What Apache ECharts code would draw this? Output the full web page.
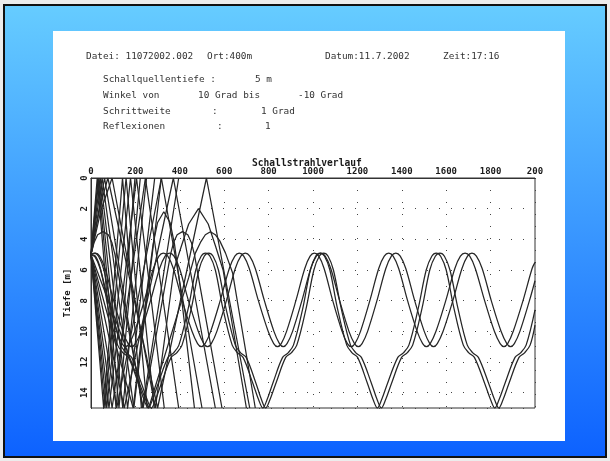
<!DOCTYPE html>
<html><head><meta charset="utf-8">
<script src="https://cdn.jsdelivr.net/npm/echarts@6/dist/echarts.min.js"></script>
<style>
html,body{margin:0;padding:0;width:610px;height:461px;overflow:hidden;background:#ececec;}
#frame{position:absolute;left:3px;top:4px;width:600px;height:450px;border:2px solid #111;background:linear-gradient(#66ccff,#0d62ff);}
#paper{position:absolute;left:53px;top:31px;width:512px;height:410px;background:#fff;}
#chart{position:absolute;left:0;top:0;width:610px;height:461px;}
</style></head>
<body>
<div id="frame"></div><div id="paper"></div><div id="chart"></div>
<script>
// ---- axis ticks ----
const xTicks = [0,200,400,600,800,1000,1200,1400,1600,1800,2000];
const xTickLabels = ['0','200','400','600','800','1000','1200','1400','1600','1800','200'];
const yTickLabels = {0:'0',2:'2',4:'4',6:'6',8:'8',10:'10',12:'12',14:'14'};

// ---- trapped rays (range m, depth m) ----
const rayA1 = [[0,5.0],[18,5.15],[41,5.9],[78,8.0],[117,10.0],[140,10.8],[155,11.0],
[172,10.8],[197,10.0],[240,8.0],[281,5.9],[306,5.1],[326,4.9],
[346,5.1],[371,5.9],[411,8.0],[455,10.0],[480,10.8],[497,11.0],
[514,10.8],[539,10.0],[582,8.0],[623,5.9],[648,5.1],[668,4.9],
[688,5.1],[713,5.9],[754,8.0],[798,10.0],[823,10.8],[840,11.0],
[857,10.8],[881,10.0],[923,8.0],[963,5.9],[987,5.1],[1006,4.9],
[1026,5.1],[1050,5.9],[1089,8.0],[1131,10.0],[1155,10.8],[1172,11.0],
[1189,10.8],[1214,10.0],[1256,8.0],[1296,5.9],[1321,5.1],[1341,4.9],
[1361,5.1],[1386,5.9],[1426,8.0],[1469,10.0],[1494,10.8],[1511,11.0],
[1528,10.8],[1554,10.0],[1598,8.0],[1639,5.9],[1664,5.1],[1685,4.9],
[1706,5.1],[1731,5.9],[1773,8.0],[1817,10.0],[1843,10.8],[1860,11.0],
[1877,10.8],[1902,10.0],[1946,8.0],[1987,5.9],[2000,5.5]];
const rayA2 = [[0,5.0],[20,4.9],
[39,5.1],[63,5.9],[102,8.0],[143,10.0],[167,10.8],[183,11.0],
[200,10.8],[225,10.0],[268,8.0],[309,5.9],[334,5.1],[354,4.9],
[374,5.1],[399,5.9],[439,8.0],[483,10.0],[508,10.8],[525,11.0],
[542,10.8],[567,10.0],[610,8.0],[650,5.9],[675,5.1],[695,4.9],
[715,5.1],[740,5.9],[781,8.0],[824,10.0],[849,10.8],[866,11.0],
[883,10.8],[908,10.0],[950,8.0],[990,5.9],[1015,5.1],[1035,4.9],
[1055,5.1],[1080,5.9],[1120,8.0],[1162,10.0],[1187,10.8],[1204,11.0],
[1221,10.8],[1246,10.0],[1288,8.0],[1328,5.9],[1353,5.1],[1373,4.9],
[1393,5.1],[1418,5.9],[1458,8.0],[1501,10.0],[1526,10.8],[1543,11.0],
[1560,10.8],[1586,10.0],[1630,8.0],[1671,5.9],[1696,5.1],[1716,4.9],
[1736,5.1],[1762,5.9],[1803,8.0],[1847,10.0],[1873,10.8],[1890,11.0],
[1907,10.8],[1932,10.0],[1975,8.0],[2000,6.7]];
const rayB1 = [[0,5.0],[20,5.1],[44,6.0],[78,8.5],[120,10.9],[144,11.4],[169,11.7],[211,13.3],[240,14.5],[258,15.0],
[276,14.5],[305,13.3],[347,11.7],[372,11.4],[396,10.9],[438,8.5],[472,6.0],[496,5.1],[516,4.9],
[536,5.1],[560,6.0],[594,8.5],[636,10.9],[660,11.4],[685,11.7],[727,13.3],[756,14.5],[774,15.0],
[792,14.5],[821,13.3],[863,11.7],[888,11.4],[912,10.9],[954,8.5],[988,6.0],[1012,5.1],[1032,4.9],
[1052,5.1],[1076,6.0],[1110,8.5],[1152,10.9],[1176,11.4],[1201,11.7],[1243,13.3],[1272,14.5],[1290,15.0],
[1308,14.5],[1338,13.3],[1382,11.7],[1407,11.4],[1432,10.9],[1474,8.5],[1510,6.0],[1535,5.1],[1555,4.9],
[1575,5.1],[1600,6.0],[1635,8.5],[1677,10.9],[1702,11.4],[1727,11.7],[1771,13.3],[1801,14.5],[1819,15.0],
[1837,14.5],[1867,13.3],[1910,11.7],[1935,11.4],[1960,10.9],[2000,8.6]];
const rayB2 = [[0,5.0],[14,4.9],[34,5.1],[58,6.0],[92,8.5],[134,10.9],[158,11.4],[183,11.7],[225,13.3],[254,14.5],[272,15.0],
[290,14.5],[319,13.3],[361,11.7],[386,11.4],[410,10.9],[452,8.5],[486,6.0],[510,5.1],[530,4.9],
[550,5.1],[574,6.0],[608,8.5],[650,10.9],[674,11.4],[699,11.7],[741,13.3],[769,14.5],[787,15.0],
[805,14.5],[835,13.3],[877,11.7],[902,11.4],[927,10.9],[969,8.5],[1004,6.0],[1028,5.1],[1048,4.9],
[1068,5.1],[1092,6.0],[1127,8.5],[1169,10.9],[1193,11.4],[1218,11.7],[1261,13.3],[1290,14.5],[1308,15.0],
[1326,14.5],[1356,13.3],[1399,11.7],[1424,11.4],[1449,10.9],[1491,8.5],[1526,6.0],[1551,5.1],[1572,4.9],
[1592,5.1],[1617,6.0],[1653,8.5],[1695,10.9],[1720,11.4],[1745,11.7],[1789,13.3],[1819,14.5],[1837,15.0],
[1855,14.5],[1885,13.3],[1928,11.7],[1953,11.4],[1978,10.9],[2000,9.6]];

// ---- upward launched rays ----
const rayU10 = [[0,5],[28,0],[113,15],[198,0]];
const rayU9 = [[0,5],[32,0],[126,15],[222,0]];
const rayU8 = [[0,5],[36,0],[143,15],[250,0]];
const rayU7 = [[0,5],[42,0],[165,15],[287,0]];
const rayU6 = [[0,5],[50,0],[193,15],[317,0]];
const rayU5 = [[0,5],[61,0],[232,15],[395,0]];
const rayU4 = [[0,5],[40,1.9],[76,0],[300,15],[520,0],[715,15]];
const rayU3 = [[0,5],[45,2.1],[95,0],[290,15],[373,6.0],[408,4.4],[440,3.0],[484,2.0],[528,3.0],[560,4.4],[595,6.0],[700,15]];
const rayU2 = [[0,5],[14,4.2],[30,3.7],[54,3.5],[78,3.7],[94,4.2],[108,5.0],[130,6.8],[235,15],[336,6.8],[358,5.0],[372,4.2],[388,3.7],[412,3.5],[436,3.7],[452,4.2],[466,5.0],[488,6.8],[590,15]];

// ---- downward launched rays ----
const rayD10 = [[0,5],[57,15],[142,0],[227,15]];
const rayD9 = [[0,5],[63,15],[158,0],[253,15]];
const rayD8 = [[0,5],[71,15],[178,0],[285,15]];
const rayD7 = [[0,5],[81,15],[205,0],[330,15]];
const rayD6 = [[0,5],[95,15],[245,0],[395,15]];
const rayD5 = [[0,5],[116,15],[317,0],[500,15]];
const rayD4 = [[0,5],[150,15],[371,0],[560,15]];
const rayD3 = [[0,5],[190,15],[255,7.0],[280,4.3],[300,2.9],[328,2.2],[356,2.9],[376,4.3],[401,7.0],[466,15]];
const rayD2 = [[0,5],[260,15],[440,6.5],[470,4.9],[493,4.2],[515,3.7],[538,3.5],[560,3.7],[580,4.1],[606,4.9],[638,6.2],[740,15]];

const trappedRays = [rayA1, rayA2, rayB1, rayB2];
const otherRays = [rayU10,rayU9,rayU8,rayU7,rayU6,rayU5,rayU4,rayU3,rayU2,
                   rayD10,rayD9,rayD8,rayD7,rayD6,rayD5,rayD4,rayD3,rayD2];

// ---- header texts ----
const headerTexts = [
  ['Datei: 11072002.002',86,58],['Ort:400m',207,58],['Datum:11.7.2002',325,58],['Zeit:17:16',443,58],
  ['Schallquellentiefe :',103,81],['5 m',255,81],
  ['Winkel von',103,97],['10 Grad bis',198,97],['-10 Grad',298,97],
  ['Schrittweite',103,113],[':',212,113],['1 Grad',261,113],
  ['Reflexionen',103,128],[':',217,128],['1',265,128]
];

const mono = '"DejaVu Sans Mono", "Liberation Mono", monospace';
const lineColor = '#262626';
const series = [];
trappedRays.forEach(r => series.push({type:'line', data:r, symbol:'none', smooth:0.35, silent:true,
  lineStyle:{color:lineColor, width:1.25}}));
otherRays.forEach(r => series.push({type:'line', data:r, symbol:'none', smooth:false, silent:true,
  lineStyle:{color:lineColor, width:1.25}}));

const graphics = headerTexts.map(t => ({type:'text', left:t[1], top:t[2]-6, silent:true,
  style:{text:t[0], font:'9.4px ' + mono, fill:'#333'}}));
graphics.push({type:'text', left:252, top:158, silent:true,
  style:{text:'Schallstrahlverlauf', font:'bold 9.6px ' + mono, fill:'#1a1a1a'}});

const chart = echarts.init(document.getElementById('chart'), null, {renderer:'canvas'});
chart.setOption({
  animation:false,
  backgroundColor:'transparent',
  graphic: graphics,
  grid:{left:91, top:178, width:444, height:230, show:true, borderColor:'#333', borderWidth:1, backgroundColor:'transparent'},
  xAxis:{type:'value', position:'top', min:0, max:2000, interval:200,
    axisLine:{show:true, lineStyle:{color:'#333', width:1}}, axisTick:{show:false},
    axisLabel:{margin:2, fontFamily:mono, fontWeight:'bold', fontSize:9, color:'#1a1a1a',
      formatter: v => xTickLabels[xTicks.indexOf(v)]},
    splitLine:{show:true, lineStyle:{type:[1,11], color:'#444', width:1}}},
  yAxis:{type:'value', inverse:true, min:0, max:15, interval:2,
    name:'Tiefe [m]', nameLocation:'middle', nameGap:15, nameRotate:90,
    nameTextStyle:{fontFamily:mono, fontWeight:'bold', fontSize:9, color:'#1a1a1a'},
    axisLine:{show:true, lineStyle:{color:'#333', width:1}}, axisTick:{show:false},
    axisLabel:{margin:2, rotate:90, showMaxLabel:false, fontFamily:mono, fontWeight:'bold', fontSize:9, color:'#1a1a1a',
      formatter: v => (yTickLabels[v] !== undefined ? yTickLabels[v] : '')},
    splitLine:{show:true, lineStyle:{type:[1,11], color:'#444', width:1}}},
  series: series
});
</script>
</body></html>
